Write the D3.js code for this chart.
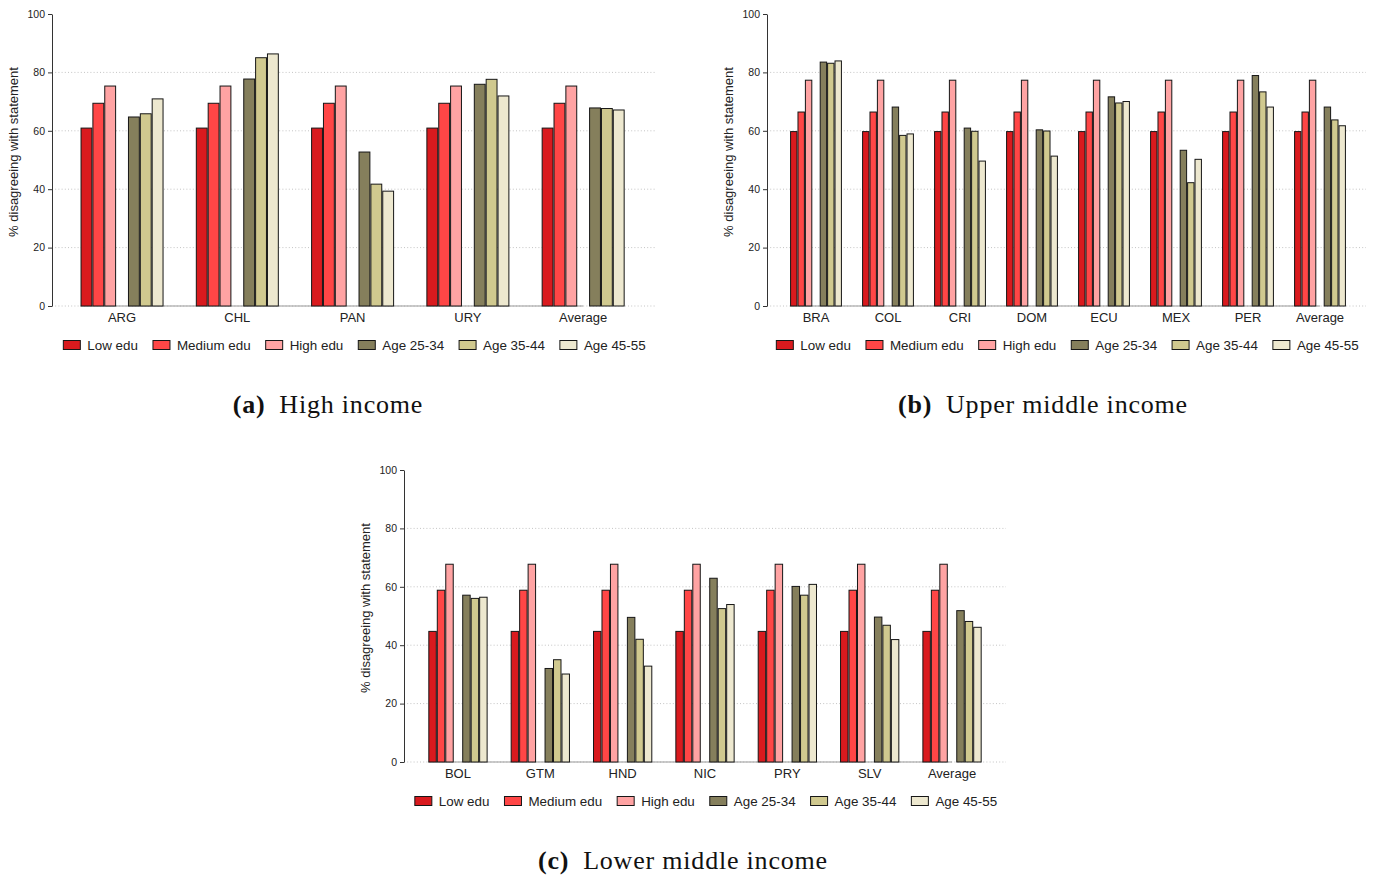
<!DOCTYPE html>
<html>
<head>
<meta charset="utf-8">
<script src="https://cdn.jsdelivr.net/npm/d3@7/dist/d3.min.js"></script>
<style>
  html, body { margin: 0; padding: 0; background: #fff; }
  svg { display: block; }
  .tick text { font-family: "Liberation Sans", Arial, sans-serif; }
</style>
</head>
<body>
<svg id="chart" width="1377" height="875"></svg>
<script>
// ---- Series and categories ----
const seriesNames = ["Low edu", "Medium edu", "High edu", "Age 25-34", "Age 35-44", "Age 45-55"];
const seriesColors = ["#d91a1e", "#ff4646", "#ffa3a3", "#857f5c", "#d0c98f", "#ede8cf"];
const yTicks = [0, 20, 40, 60, 80, 100];

// (a) High income
const highCountries = ["ARG", "CHL", "PAN", "URY", "Average"];
const highLowEdu  = [61.1, 61.1, 61.1, 61.1, 61.1];
const highMedEdu  = [69.6, 69.6, 69.6, 69.6, 69.6];
const highHighEdu = [75.5, 75.5, 75.5, 75.5, 75.5];
const highAge2534 = [64.9, 77.9, 52.9, 76.1, 68.0];
const highAge3544 = [66.0, 85.2, 41.9, 77.8, 67.8];
const highAge4555 = [71.1, 86.5, 39.5, 72.1, 67.3];

// (b) Upper middle income
const upperCountries = ["BRA", "COL", "CRI", "DOM", "ECU", "MEX", "PER", "Average"];
const upperLowEdu  = [59.9, 59.9, 59.9, 59.9, 59.9, 59.9, 59.9, 59.9];
const upperMedEdu  = [66.6, 66.6, 66.6, 66.6, 66.6, 66.6, 66.6, 66.6];
const upperHighEdu = [77.5, 77.5, 77.5, 77.5, 77.5, 77.5, 77.5, 77.5];
const upperAge2534 = [83.7, 68.3, 61.1, 60.5, 71.8, 53.5, 79.1, 68.3];
const upperAge3544 = [83.3, 58.6, 60.0, 60.1, 69.7, 42.4, 73.5, 63.9];
const upperAge4555 = [84.1, 59.1, 49.8, 51.5, 70.2, 50.4, 68.3, 61.9];

// (c) Lower middle income
const lowerCountries = ["BOL", "GTM", "HND", "NIC", "PRY", "SLV", "Average"];
const lowerLowEdu  = [44.9, 44.9, 44.9, 44.9, 44.9, 44.9, 44.9];
const lowerMedEdu  = [59.0, 59.0, 59.0, 59.0, 59.0, 59.0, 59.0];
const lowerHighEdu = [67.9, 67.9, 67.9, 67.9, 67.9, 67.9, 67.9];
const lowerAge2534 = [57.3, 32.2, 49.7, 63.1, 60.3, 49.8, 52.0];
const lowerAge3544 = [56.2, 35.2, 42.2, 52.7, 57.3, 47.0, 48.3];
const lowerAge4555 = [56.6, 30.3, 33.0, 54.1, 61.0, 42.1, 46.3];

// ---- Panel layout ----
const panels = [
  { tag: "(a)", title: "High income", countries: highCountries,
    series: [highLowEdu, highMedEdu, highHighEdu, highAge2534, highAge3544, highAge4555],
    axisX: 52, top: 14, bottom: 306, right: 655, band: [64.4, 640.8], captionX: 328, captionY: 413 },
  { tag: "(b)", title: "Upper middle income", countries: upperCountries,
    series: [upperLowEdu, upperMedEdu, upperHighEdu, upperAge2534, upperAge3544, upperAge4555],
    axisX: 767, top: 14, bottom: 306, right: 1366, band: [780, 1356], captionX: 1043, captionY: 413 },
  { tag: "(c)", title: "Lower middle income", countries: lowerCountries,
    series: [lowerLowEdu, lowerMedEdu, lowerHighEdu, lowerAge2534, lowerAge3544, lowerAge4555],
    axisX: 404, top: 470, bottom: 762, right: 1006, band: [416.8, 993.2], captionX: 683, captionY: 869 }
];

const slotOf = [0, 1, 2, 4, 5, 6];   // gap slot between education and age bars
const sans = '"Liberation Sans", Arial, Helvetica, sans-serif';
const svg = d3.select("#chart");

panels.forEach(p => {
  const g = svg.append("g");
  const y = d3.scaleLinear().domain([0, 100]).range([p.bottom, p.top]);
  const x = d3.scaleBand().domain(p.countries).range(p.band).paddingInner(0).paddingOuter(0);
  const groupW = x.step() * 0.72;
  const inner = d3.scaleBand().domain(d3.range(7)).range([0, groupW]);

  // dotted grid lines
  g.append("g").selectAll("line").data(yTicks.filter(t => t < 100)).join("line")
    .attr("x1", p.axisX).attr("x2", p.right)
    .attr("y1", d => y(d)).attr("y2", d => y(d))
    .attr("stroke", "#c4c4c4").attr("stroke-width", 1)
    .attr("stroke-dasharray", "1,2.2");

  // solid base line under the bar groups
  const first = p.countries[0], last = p.countries[p.countries.length - 1];
  const groupLeft = c => x(c) + (x.bandwidth() - groupW) / 2;
  g.append("line")
    .attr("x1", groupLeft(first)).attr("x2", x(last) + x.bandwidth() / 2)
    .attr("y1", y(0)).attr("y2", y(0))
    .attr("stroke", "#9a9a9a").attr("stroke-width", 1.2);

  // bars
  const rows = [];
  p.countries.forEach((c, i) => {
    p.series.forEach((vals, s) => rows.push({ c, s, v: vals[i] }));
  });
  g.append("g").selectAll("rect").data(rows).join("rect")
    .attr("x", d => groupLeft(d.c) + inner(slotOf[d.s]) + 0.5)
    .attr("width", inner.bandwidth() - 1)
    .attr("y", d => y(d.v) + 0.5)
    .attr("height", d => y(0) - y(d.v) - 0.5)
    .attr("fill", d => seriesColors[d.s])
    .attr("stroke", "#161616").attr("stroke-width", 1);

  // y axis
  const yAxis = d3.axisLeft(y).tickValues(yTicks).tickSize(4).tickSizeOuter(0).tickPadding(3);
  const ya = g.append("g").attr("transform", `translate(${p.axisX},0)`).call(yAxis);
  ya.select(".domain").attr("stroke", "#333").attr("stroke-width", 1);
  ya.selectAll(".tick line").attr("stroke", "#333");
  ya.selectAll(".tick text").attr("font-size", 10.5).attr("fill", "#222");

  // y title
  g.append("text")
    .attr("transform", `translate(${p.axisX - 34},${(p.top + p.bottom) / 2 - 8}) rotate(-90)`)
    .attr("text-anchor", "middle")
    .attr("font-family", sans).attr("font-size", 13).attr("fill", "#222")
    .text("% disagreeing with statement");

  // x category labels
  g.append("g").selectAll("text").data(p.countries).join("text")
    .attr("x", d => x(d) + x.bandwidth() / 2)
    .attr("y", p.bottom + 16)
    .attr("text-anchor", "middle")
    .attr("font-family", sans).attr("font-size", 13).attr("fill", "#222")
    .text(d => d);

  // legend
  const lg = g.append("g").attr("transform", `translate(0,${p.bottom + 39})`);
  const items = lg.selectAll("g").data(seriesNames).join("g");
  items.append("rect")
    .attr("width", 17).attr("height", 9).attr("y", -4.5)
    .attr("fill", (d, i) => seriesColors[i])
    .attr("stroke", "#161616").attr("stroke-width", 1);
  items.append("text")
    .attr("x", 24).attr("dy", "0.35em")
    .attr("font-family", sans).attr("font-size", 13.4).attr("fill", "#222")
    .text(d => d);
  let widths = [];
  items.each(function () { widths.push(24 + this.querySelector("text").getComputedTextLength()); });
  const gap = 15;
  const total = d3.sum(widths) + gap * (widths.length - 1);
  let cx = (p.axisX + p.right) / 2 + 1 - total / 2;
  items.attr("transform", (d, i) => {
    const t = `translate(${cx},0)`;
    cx += widths[i] + gap;
    return t;
  });

  // caption
  const cap = svg.append("text")
    .attr("x", p.captionX).attr("y", p.captionY)
    .attr("text-anchor", "middle")
    .attr("font-family", '"Liberation Serif", "DejaVu Serif", serif')
    .attr("font-size", 26).attr("letter-spacing", 0.8).attr("fill", "#111");
  cap.append("tspan").attr("font-weight", "bold").text(p.tag);
  cap.append("tspan").text("\u2002" + p.title);
});
</script>
</body>
</html>
